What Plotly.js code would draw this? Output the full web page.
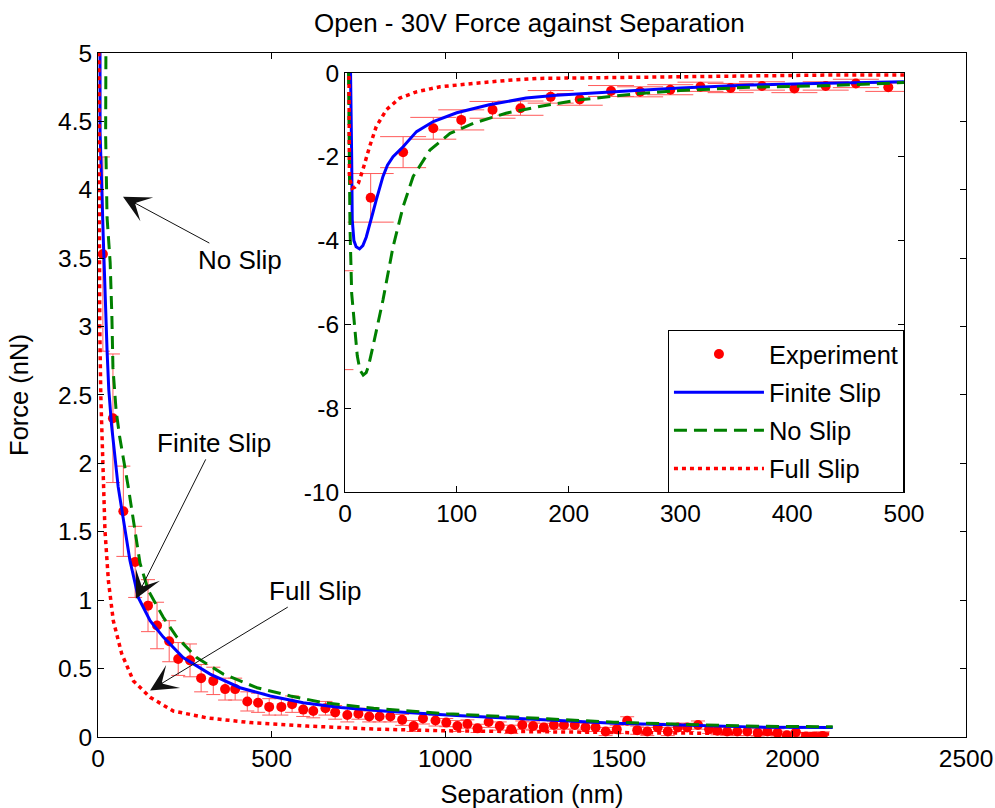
<!DOCTYPE html>
<html>
<head>
<meta charset="utf-8">
<script src="https://cdn.plot.ly/plotly-3.0.1.min.js"></script>
<style>
html,body{margin:0;padding:0;background:#fff;}
#chart{width:995px;height:808px;}
</style>
</head>
<body>
<div id="chart"></div>
<script>
// ---------- Main plot data (Separation nm, Force nN) ----------
const mainExpX = [14, 43, 73, 107, 144, 170, 205, 231, 265, 297,
  332, 366, 395, 430, 461, 493, 528, 559, 591, 620,
  655, 683, 718, 750, 781, 811, 842, 876, 909, 936,
  972, 1003, 1035, 1064, 1093, 1125, 1157, 1190, 1222, 1253,
  1284, 1313, 1342, 1373, 1404, 1433, 1462, 1494, 1524, 1553,
  1582, 1612, 1641, 1670, 1697, 1728, 1760, 1784, 1812, 1841,
  1870, 1900, 1928, 1957, 1984, 2010, 2039, 2063, 2087];
const mainExpY = [3.53, 2.33, 1.65, 1.28, 0.96, 0.815, 0.70, 0.57, 0.56, 0.43,
  0.41, 0.35, 0.35, 0.26, 0.25, 0.22, 0.22, 0.24, 0.20, 0.19,
  0.21, 0.18, 0.16, 0.17, 0.15, 0.15, 0.15, 0.125, 0.08, 0.135,
  0.12, 0.105, 0.08, 0.095, 0.063, 0.11, 0.08, 0.056, 0.087, 0.08,
  0.07, 0.087, 0.087, 0.087, 0.07, 0.07, 0.04, 0.056, 0.118, 0.05,
  0.04, 0.07, 0.04, 0.07, 0.07, 0.087, 0.056, 0.046, 0.04, 0.04,
  0.04, 0.03, 0.04, 0.03, 0.012, 0.035, 0.004, 0.004, 0.008];
const mainExpErr = [0.71, 0.47, 0.33, 0.26, 0.19, 0.17, 0.15, 0.12, 0.12, 0.10,
  0.10, 0.08, 0.08, 0.07, 0.07, 0.06, 0.06, 0.06, 0.05, 0.05,
  0.05, 0.05, 0.05, 0.04, 0.04, 0.04, 0.04, 0.04, 0.04, 0.04,
  0.04, 0.03, 0.04, 0.03, 0.03, 0.04, 0.03, 0.03, 0.03, 0.03,
  0.03, 0.03, 0.03, 0.03, 0.03, 0.03, 0.03, 0.03, 0.03, 0.03,
  0.03, 0.03, 0.03, 0.03, 0.03, 0.03, 0.03, 0.03, 0.03, 0.03,
  0.03, 0.03, 0.03, 0.03, 0.03, 0.03, 0.03, 0.03, 0.03];

const finiteX = [5.5, 6, 15, 20, 26, 31, 39, 58, 73, 92, 116, 150, 188, 245, 323, 409, 496, 591, 698, 822, 1005, 1294, 1486, 1678, 1900, 2116];
const finiteY = [6, 4.42, 3.66, 3.22, 2.83, 2.54, 2.28, 1.83, 1.58, 1.29, 1.02, 0.85, 0.73, 0.58, 0.46, 0.36, 0.30, 0.25, 0.215, 0.19, 0.16, 0.124, 0.10, 0.087, 0.072, 0.07];

const noSlipX = [24, 22, 26, 35, 40, 43, 52, 62, 87, 102, 121, 145, 188, 227, 284, 361, 458, 554, 650, 794, 1005, 1294, 1486, 1678, 1900, 2116];
const noSlipY = [6, 4.4, 3.8, 3.47, 3.07, 2.7, 2.39, 2.2, 1.83, 1.58, 1.27, 1.07, 0.875, 0.73, 0.58, 0.46, 0.36, 0.30, 0.25, 0.21, 0.17, 0.133, 0.108, 0.093, 0.078, 0.075];

const fullSlipX = [1, 3, 5, 8, 11, 15, 20, 30, 44, 68, 102, 150, 217, 313, 438, 602, 794, 1000, 1300, 1600, 1900, 2116];
const fullSlipY = [6, 4.0, 3.0, 2.5, 2.25, 1.83, 1.51, 1.14, 0.85, 0.61, 0.41, 0.29, 0.19, 0.14, 0.105, 0.08, 0.058, 0.045, 0.035, 0.03, 0.025, 0.022];

// ---------- Inset data ----------
const insetExpX = [-13, 23, 52, 79, 104, 132, 157, 184, 210, 238, 264, 291, 318, 345, 373, 402, 430, 457, 486];
const insetExpY = [-5.9, -2.98, -1.89, -1.32, -1.12, -0.88, -0.84, -0.57, -0.63, -0.43, -0.45, -0.40, -0.33, -0.36, -0.31, -0.37, -0.31, -0.25, -0.34];
const insetExpErr = [1.18, 0.58, 0.37, 0.26, 0.24, 0.20, 0.17, 0.15, 0.14, 0.13, 0.12, 0.12, 0.11, 0.11, 0.10, 0.10, 0.10, 0.10, 0.10];

const insetFiniteX = [3, 5, 6, 6.5, 8, 10, 13, 16, 19, 22, 25, 28, 31, 34, 38, 43, 52, 64, 79, 100, 129, 162, 189, 219, 260, 300, 362, 421, 500];
const insetFiniteY = [0.5, 0, -2.0, -3.5, -4.0, -4.15, -4.2, -4.12, -3.92, -3.65, -3.33, -3.03, -2.75, -2.47, -2.2, -2.0, -1.76, -1.40, -1.16, -0.95, -0.76, -0.60, -0.53, -0.49, -0.42, -0.36, -0.29, -0.25, -0.21];

const insetNoSlipX = [3, 4.5, 6, 9, 11, 13.4, 16.3, 19, 21, 25, 34, 43, 52, 61, 76, 94, 115, 144, 174, 210, 260, 300, 362, 421, 500];
const insetNoSlipY = [0.5, -3.7, -5.26, -6.21, -6.75, -7.09, -7.21, -7.15, -7.0, -6.53, -5.42, -4.15, -3.19, -2.47, -1.84, -1.44, -1.20, -0.96, -0.80, -0.64, -0.50, -0.42, -0.34, -0.31, -0.23];

const insetFullX = [3.5, 4, 6.5, 9, 12, 16, 22, 28, 37, 49, 64, 85, 115, 144, 174, 204, 263, 362, 430, 500];
const insetFullY = [0.5, -2.5, -2.75, -2.72, -2.63, -2.31, -1.76, -1.28, -0.88, -0.60, -0.45, -0.33, -0.25, -0.18, -0.13, -0.12, -0.10, -0.06, -0.05, -0.05];

// ---------- Tick labels ----------
const mainXTicks = [0, 500, 1000, 1500, 2000, 2500];
const mainYTicks = [0, 0.5, 1, 1.5, 2, 2.5, 3, 3.5, 4, 4.5, 5];
const mainYTickText = ['0', '0.5', '1', '1.5', '2', '2.5', '3', '3.5', '4', '4.5', '5'];
const insetXTicks = [0, 100, 200, 300, 400, 500];
const insetYTicks = [-10, -8, -6, -4, -2, 0];
const insetYTickText = ['-10', '-8', '-6', '-4', '-2', '0'];

const seriesNames = ['Experiment', 'Finite Slip', 'No Slip', 'Full Slip'];

const FONT = '"Liberation Sans", Arial, Helvetica, sans-serif';
const RED = '#ff0000', BLUE = '#0000ff', GREEN = '#008000', ERR = '#ff5a5a';

function lineStyle(i) {
  if (i === 1) return {color: BLUE, width: 3};
  if (i === 2) return {color: GREEN, width: 3, dash: '13px,7px'};
  return {color: RED, width: 3.5, dash: '4px,4px'};
}

const traces = [
  {x: mainExpX, y: mainExpY, xaxis: 'x', yaxis: 'y', type: 'scatter', mode: 'markers',
   marker: {color: RED, size: 10},
   error_y: {type: 'data', array: mainExpErr, visible: true, color: ERR, thickness: 1, width: 7},
   showlegend: false, hoverinfo: 'skip'},
  {x: finiteX, y: finiteY, xaxis: 'x', yaxis: 'y', type: 'scatter', mode: 'lines', line: lineStyle(1), showlegend: false},
  {x: noSlipX, y: noSlipY, xaxis: 'x', yaxis: 'y', type: 'scatter', mode: 'lines', line: lineStyle(2), showlegend: false},
  {x: fullSlipX, y: fullSlipY, xaxis: 'x', yaxis: 'y', type: 'scatter', mode: 'lines', line: lineStyle(3), showlegend: false},

  {x: insetExpX, y: insetExpY, xaxis: 'x2', yaxis: 'y2', type: 'scatter', mode: 'markers',
   name: seriesNames[0], legendgroup: 'g0',
   marker: {color: RED, size: 10},
   error_y: {type: 'data', array: insetExpErr, visible: true, color: ERR, thickness: 1, width: 23}},
  {x: insetFiniteX, y: insetFiniteY, xaxis: 'x2', yaxis: 'y2', type: 'scatter', mode: 'lines', name: seriesNames[1], legendgroup: 'g1', line: lineStyle(1)},
  {x: insetNoSlipX, y: insetNoSlipY, xaxis: 'x2', yaxis: 'y2', type: 'scatter', mode: 'lines', name: seriesNames[2], legendgroup: 'g2', line: lineStyle(2)},
  {x: insetFullX, y: insetFullY, xaxis: 'x2', yaxis: 'y2', type: 'scatter', mode: 'lines', name: seriesNames[3], legendgroup: 'g3', line: lineStyle(3)}
];

const axisCommon = {
  ticks: 'inside', ticklen: 6, tickwidth: 1, tickcolor: '#000',
  showline: true, linecolor: '#000', linewidth: 1, mirror: 'ticks',
  showgrid: false, zeroline: false, tickfont: {size: 24.5, color: '#000'}
};

const arrowCommon = {
  xref: 'x', yref: 'y', axref: 'x', ayref: 'y', showarrow: true,
  arrowhead: 3, arrowsize: 4.5, arrowwidth: 1, arrowcolor: '#111',
  font: {size: 26, color: '#000'}
};

const layout = {
  width: 995, height: 808,
  margin: {l: 0, r: 0, t: 0, b: 0},
  paper_bgcolor: '#fff', plot_bgcolor: '#fff',
  font: {family: FONT, size: 24, color: '#000'},
  title: {text: 'Open - 30V Force against Separation', x: 0.532, xanchor: 'center', y: 0.972, yanchor: 'middle', font: {size: 26}},
  xaxis: Object.assign({}, axisCommon, {
    domain: [0.0985, 0.9709], anchor: 'y', range: [0, 2500],
    tickvals: mainXTicks, ticktext: mainXTicks.map(String),
    title: {text: 'Separation (nm)', font: {size: 25.5}}
  }),
  yaxis: Object.assign({}, axisCommon, {
    domain: [0.0879, 0.9344], anchor: 'x', range: [0, 5],
    tickvals: mainYTicks, ticktext: mainYTickText,
    title: {text: 'Force (nN)', font: {size: 25.5}, standoff: 22}
  }),
  xaxis2: Object.assign({}, axisCommon, {
    domain: [0.3467, 0.9085], anchor: 'y2', range: [0, 500],
    tickvals: insetXTicks, ticktext: insetXTicks.map(String)
  }),
  yaxis2: Object.assign({}, axisCommon, {
    domain: [0.3911, 0.9097], anchor: 'x2', range: [-10, 0],
    tickvals: insetYTicks, ticktext: insetYTickText
  }),
  showlegend: true,
  legend: {
    x: 0.9085, y: 0.3899, xanchor: 'right', yanchor: 'bottom',
    bgcolor: '#fff', bordercolor: '#000', borderwidth: 1,
    font: {size: 25.5, color: '#000'}, tracegroupgap: 2, itemwidth: 90
  },
  annotations: [
    Object.assign({}, arrowCommon, {x: 72, y: 3.95, ax: 409, ay: 3.49, text: 'No Slip'}),
    Object.assign({}, arrowCommon, {x: 109, y: 1.01, ax: 334, ay: 2.15, text: 'Finite Slip'}),
    Object.assign({}, arrowCommon, {x: 150, y: 0.34, ax: 625, ay: 1.07, text: 'Full Slip'})
  ]
};

Plotly.newPlot('chart', traces, layout, {displayModeBar: false, staticPlot: true});
</script>
</body>
</html>
